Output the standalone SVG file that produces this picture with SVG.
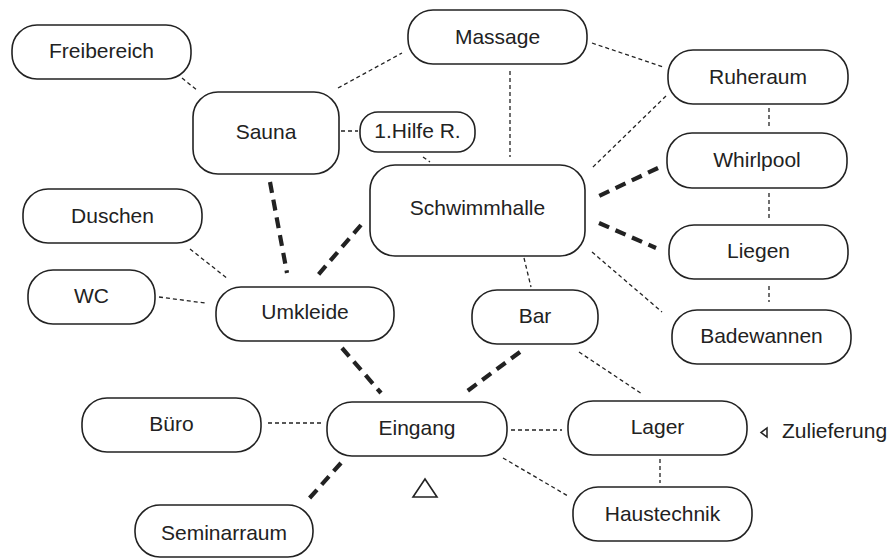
<svg xmlns="http://www.w3.org/2000/svg" width="896" height="558" viewBox="0 0 896 558">
<style>
.n rect{fill:#fff;stroke:#222;stroke-width:1.6}
.n text,.lbl{font-family:"Liberation Sans",Arial,sans-serif;font-size:21px;fill:#222;text-anchor:middle}
.thin{stroke:#222;stroke-width:1.3;stroke-dasharray:4 3;fill:none}
.thick{stroke:#222;stroke-width:4.2;stroke-dasharray:11 7;fill:none}
</style>
<rect width="896" height="558" fill="#fff"/>
<g id="connectors">
<line class="thin" x1="182" y1="78" x2="198" y2="91"/>
<line class="thin" x1="338" y1="88" x2="402" y2="53"/>
<line class="thin" x1="341" y1="131" x2="358" y2="131"/>
<line class="thin" x1="423" y1="157" x2="430" y2="162"/>
<line class="thin" x1="510" y1="71" x2="510" y2="157"/>
<line class="thin" x1="592" y1="43" x2="663" y2="67"/>
<line class="thin" x1="666" y1="96" x2="592" y2="168"/>
<line class="thin" x1="769" y1="108" x2="769" y2="128"/>
<line class="thin" x1="769" y1="193" x2="769" y2="218"/>
<line class="thin" x1="769" y1="286" x2="769" y2="302"/>
<line class="thin" x1="592" y1="252" x2="662" y2="312"/>
<line class="thin" x1="524" y1="258" x2="531" y2="287"/>
<line class="thin" x1="579" y1="352" x2="642" y2="394"/>
<line class="thin" x1="190" y1="249" x2="228" y2="279"/>
<line class="thin" x1="159" y1="297" x2="205" y2="303"/>
<line class="thin" x1="268" y1="423" x2="322" y2="423"/>
<line class="thin" x1="511" y1="430" x2="562" y2="430"/>
<line class="thin" x1="503" y1="458" x2="568" y2="496"/>
<line class="thin" x1="660" y1="459" x2="660" y2="483"/>
<line class="thick" x1="270" y1="182" x2="287" y2="273"/>
<line class="thick" x1="361" y1="225" x2="318" y2="275"/>
<line class="thick" x1="658" y1="168" x2="597" y2="197"/>
<line class="thick" x1="599" y1="223" x2="656" y2="248"/>
<line class="thick" x1="342" y1="348" x2="381" y2="393"/>
<line class="thick" x1="520" y1="352" x2="466" y2="392"/>
<line class="thick" x1="341" y1="463" x2="306" y2="502"/>
</g>
<g id="freibereich" class="n"><rect x="12" y="25" width="179" height="54" rx="25"/><text x="101.5" y="58">Freibereich</text></g>
<g id="sauna" class="n"><rect x="193" y="92" width="146" height="82" rx="25"/><text x="266" y="139">Sauna</text></g>
<g id="hilfe" class="n"><rect x="360" y="112" width="115" height="40" rx="18"/><text x="417.5" y="138">1.Hilfe R.</text></g>
<g id="massage" class="n"><rect x="408" y="10" width="179" height="54" rx="25"/><text x="497.5" y="44">Massage</text></g>
<g id="ruheraum" class="n"><rect x="668" y="50" width="180" height="54" rx="25"/><text x="758" y="84">Ruheraum</text></g>
<g id="whirlpool" class="n"><rect x="667" y="133" width="180" height="55" rx="25"/><text x="757" y="167">Whirlpool</text></g>
<g id="liegen" class="n"><rect x="669" y="225" width="179" height="54" rx="25"/><text x="758.5" y="258">Liegen</text></g>
<g id="badewannen" class="n"><rect x="672" y="310" width="179" height="54" rx="25"/><text x="761.5" y="343">Badewannen</text></g>
<g id="schwimmhalle" class="n"><rect x="370" y="165" width="215" height="91" rx="25"/><text x="477.5" y="215">Schwimmhalle</text></g>
<g id="bar" class="n"><rect x="472" y="290" width="126" height="54" rx="25"/><text x="535" y="323">Bar</text></g>
<g id="duschen" class="n"><rect x="23" y="189" width="179" height="54" rx="25"/><text x="112.5" y="223">Duschen</text></g>
<g id="wc" class="n"><rect x="28" y="270" width="127" height="54" rx="25"/><text x="91.5" y="303">WC</text></g>
<g id="umkleide" class="n"><rect x="216" y="287" width="178" height="54" rx="25"/><text x="305" y="319">Umkleide</text></g>
<g id="buero" class="n"><rect x="82" y="398" width="179" height="54" rx="25"/><text x="171.5" y="431">Büro</text></g>
<g id="eingang" class="n"><rect x="327" y="402" width="180" height="54" rx="25"/><text x="417" y="435">Eingang</text></g>
<g id="seminarraum" class="n"><rect x="135" y="505" width="178" height="52" rx="25"/><text x="224" y="540">Seminarraum</text></g>
<g id="lager" class="n"><rect x="568" y="401" width="179" height="54" rx="25"/><text x="657.5" y="434">Lager</text></g>
<g id="haustechnik" class="n"><rect x="573" y="487" width="179" height="54" rx="25"/><text x="662.5" y="521">Haustechnik</text></g>
<g id="zulieferung">
<polygon points="767,428 767,437 761,432.5" fill="none" stroke="#222" stroke-width="1.5"/>
<text class="lbl" x="782" y="438" style="text-anchor:start">Zulieferung</text>
</g>
<g id="eingang-marker">
<polygon points="425,479 437,497 413,497" fill="none" stroke="#222" stroke-width="1.6"/>
</g>
</svg>
